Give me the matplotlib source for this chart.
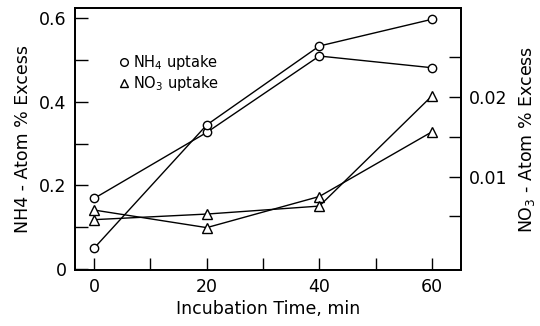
import matplotlib
matplotlib.use('Agg')
import matplotlib.pyplot as plt
from matplotlib.lines import Line2D
from matplotlib.ticker import FixedLocator, NullFormatter

# Data
time_min = [0, 20, 40, 60]

# NH4 uptake (left axis, atom % excess)
nh4_run_a = [0.169, 0.327, 0.510, 0.482]
nh4_run_b = [0.050, 0.345, 0.534, 0.598]

# NO3 uptake (right axis, atom % excess)
no3_run_a = [0.0058, 0.0036, 0.0075, 0.0156]
no3_run_b = [0.0046, 0.0053, 0.0063, 0.0201]

x_ticks = [0, 20, 40, 60]
left_ticks = [0, 0.2, 0.4, 0.6]
left_ticklabels = ['0', '0.2', '0.4', '0.6']
right_ticks = [0.01, 0.02]
right_ticklabels = ['0.01', '0.02']

plt.rcParams['font.family'] = ['DejaVu Sans']

fig = plt.figure(figsize=(5.4, 3.26), dpi=100)
ax = fig.add_axes([0.139, 0.172, 0.714, 0.803])
ax2 = ax.twinx()

line_kw = dict(color='black', lw=1.0, markerfacecolor='white',
               markeredgecolor='black', markeredgewidth=1.0, clip_on=False)
for vals in (nh4_run_a, nh4_run_b):
    ax.plot(time_min, vals, marker='o', markersize=6, **line_kw)
for vals in (no3_run_a, no3_run_b):
    ax2.plot(time_min, vals, marker='^', markersize=6.5, **line_kw)

ax.set_xlim(-3.4, 65.1)
ax.set_ylim(-0.0024, 0.6247)
ax2.set_ylim(-0.0017, 0.0311)

# ticks inward, like the original
ax.set_xticks(x_ticks)
ax.xaxis.set_minor_locator(FixedLocator([10, 30, 50]))
ax.set_yticks(left_ticks)
ax.set_yticklabels(left_ticklabels)
ax.yaxis.set_minor_locator(FixedLocator([0.1, 0.3, 0.5]))
ax.tick_params(which='both', direction='in', length=9, width=1.0,
               labelsize=12.5, pad=6, right=False, top=False)

ax2.yaxis.set_major_locator(FixedLocator(right_ticks))
ax2.set_yticklabels(right_ticklabels)
ax2.yaxis.set_minor_locator(FixedLocator([0.005, 0.015, 0.025]))
ax2.yaxis.set_minor_formatter(NullFormatter())
ax2.tick_params(which='both', direction='in', length=9, width=1.0,
                labelsize=12.5, pad=6)

for a in (ax, ax2):
    for sp in a.spines.values():
        sp.set_linewidth(1.3)

ax.set_xlabel('Incubation Time, min', fontsize=12.5, labelpad=3)
ax.set_ylabel('NH4 - Atom % Excess', fontsize=12.5, labelpad=5)
ax2.set_ylabel('NO$_3$ - Atom % Excess', fontsize=12.5, labelpad=7)

handles = [
    Line2D([], [], ls='none', marker='o', markersize=5.5, markerfacecolor='white',
           markeredgecolor='black', label='NH$_4$ uptake'),
    Line2D([], [], ls='none', marker='^', markersize=6, markerfacecolor='white',
           markeredgecolor='black', label='NO$_3$ uptake'),
]
ax.legend(handles=handles, loc='upper left', bbox_to_anchor=(0.1, 0.85),
          frameon=False, fontsize=10.5, handlelength=0.6, handletextpad=0.3,
          labelspacing=0.12, borderaxespad=0)

fig.savefig('out.png', dpi=100)
